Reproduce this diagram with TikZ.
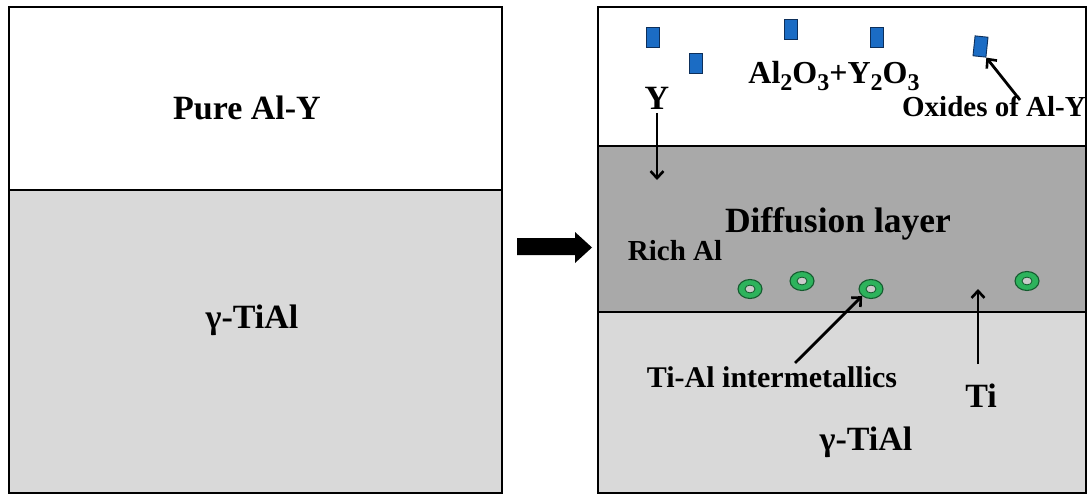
\documentclass[tikz,border=0pt]{standalone}
\usepackage{fontspec}
\setmainfont{Liberation Serif}
\usetikzlibrary{arrows.meta,shapes.geometric}
\definecolor{lightgr}{HTML}{D9D9D9}
\definecolor{midgr}{HTML}{A9A9A9}
\definecolor{oxblue}{HTML}{1B6CC4}
\definecolor{oxedge}{HTML}{0D2F5A}
\definecolor{ringgreen}{HTML}{2DB35C}
\definecolor{ringedge}{HTML}{145A2E}
\newcommand\fs[1]{\fontsize{#1}{#1}\selectfont\bfseries}
\newcommand\sbx[1]{\raisebox{-0.2em}{\fontsize{24}{24}\selectfont\bfseries #1}}
\tikzset{
  layer/.style={draw=black,line width=2.6pt},
  lbl/.style={anchor=base,inner sep=0pt,text=black},
  oxide/.style={rectangle,draw=oxedge,fill=oxblue,line width=0.9pt,minimum width=13pt,minimum height=20pt,inner sep=0pt},
  ring/.style={ellipse,draw=ringedge,fill=ringgreen,line width=1.1pt,minimum width=24pt,minimum height=19pt,inner sep=0pt},
  thinarrow/.style={line width=2.8pt,-{Straight Barb[length=7pt,width=13pt,line width=2.6pt]}},
}
\begin{document}
\begin{tikzpicture}[x=1pt,y=-1pt]
\useasboundingbox (0,0) rectangle (1088,495);
% left panel
\fill[white] (9,7) rectangle (502,190);
\fill[lightgr] (9,190) rectangle (502,493);
\draw[layer] (9,7) rectangle (502,493);
\draw[layer] (9,190) -- (502,190);
\node[lbl] (pure) at (247,120) {\fs{34}Pure Al-Y};
\node[lbl] (tialL) at (252,328) {\fs{34}γ-TiAl};
% big arrow
\fill[black] (517,238) -- (575,238) -- (575,232) -- (592,247.5) -- (575,263) -- (575,255) -- (517,255) -- cycle;
% right panel
\fill[white] (598,7) rectangle (1086,146);
\fill[midgr] (598,146) rectangle (1086,312);
\fill[lightgr] (598,312) rectangle (1086,493);
\draw[layer] (598,7) rectangle (1086,493);
\draw[layer] (598,146) -- (1086,146);
\draw[layer] (598,312) -- (1086,312);
% oxides
\node[oxide] (b1) at (652.5,37.5) {};
\node[oxide] (b2) at (696,63.5) {};
\node[oxide] (b3) at (791,29) {};
\node[oxide] (b4) at (877,37.5) {};
\node[oxide,rotate=-6] (b5) at (980.5,46.5) {};
% rings
\foreach \n/\x/\y in {r1/750/289, r2/802/281, r3/871/289, r4/1027/281}{
  \node[ring] (\n) at (\x,\y) {};
  \filldraw[fill=lightgr!70!midgr,draw=ringedge,line width=0.8pt] (\n.center) ellipse (5 and 3.9);
}
% labels
\node[lbl] (alo) at (834,84) {\fs{32}Al\sbx{2}O\sbx{3}+Y\sbx{2}O\sbx{3}};
\node[lbl] (Y) at (657,110) {\fs{34}Y};
\node[lbl] (oxl) at (994,117) {\fs{29}Oxides of Al-Y};
\node[lbl] (diff) at (838,232) {\fs{35.5}Diffusion layer};
\node[lbl] (rich) at (675,260) {\fs{29}Rich Al};
\node[lbl] (tim) at (772,387) {\fs{30}Ti-Al intermetallics};
\node[lbl] (Ti) at (981,407) {\fs{34}Ti};
\node[lbl] (tialR) at (866,450) {\fs{34}γ-TiAl};
% connectors
\coordinate (ystart) at (657,113);
\coordinate (ytip) at (657,180);
\coordinate (oxstart) at (1020,100);
\coordinate (timstart) at (795,363);
\coordinate (tistart) at (978,364);
\coordinate (titip) at (978,289);
\draw[thinarrow] (ystart) -- (ytip);
\draw[thinarrow] (oxstart) -- (b5.south east);
\draw[thinarrow] (timstart) -- (r3.south west);
\draw[thinarrow] (tistart) -- (titip);
\end{tikzpicture}
\end{document}
